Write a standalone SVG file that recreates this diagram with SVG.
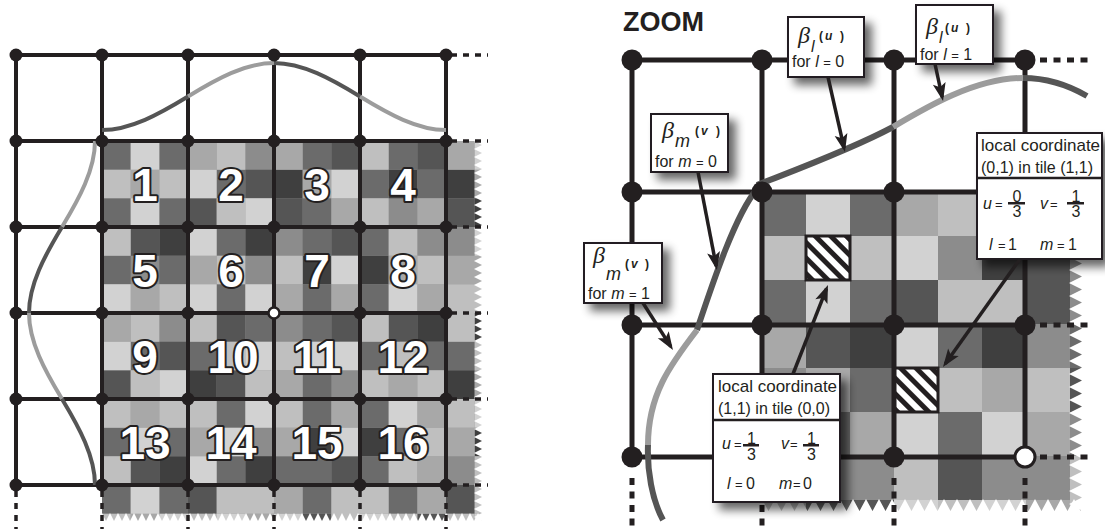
<svg xmlns="http://www.w3.org/2000/svg" width="1105" height="529" viewBox="0 0 1105 529">
<defs>
<style>
.g1{fill:#3f3f3f}.g2{fill:#555}.g3{fill:#6b6b6b}.g4{fill:#8c8c8c}.g5{fill:#a8a8a8}.g6{fill:#bfbfbf}.g7{fill:#d2d2d2}
.ln{fill:none;stroke:#231f20}
.dk{fill:none;stroke:#555;stroke-linecap:butt}
.lt{fill:none;stroke:#9c9c9c;stroke-linecap:butt}
.dot{fill:#231f20}
.num{font-family:"Liberation Sans",Arial,sans-serif;font-weight:bold;font-size:46px;fill:#fff;stroke:#231f20;stroke-width:4;paint-order:stroke;stroke-linejoin:round;text-anchor:middle}
.box{fill:#fff;stroke:#231f20;stroke-width:2}
.t{font-family:"Liberation Sans",Arial,sans-serif;fill:#231f20}
.beta{font-family:"Liberation Serif","Times New Roman",serif;font-style:italic;font-size:24px}
.it{font-style:italic}
.eq{font-size:13px}
.arg{font-size:12px;font-weight:bold}
.arr{fill:none;stroke:#231f20;stroke-width:3.5}
</style>
<filter id="sh" x="-40%" y="-40%" width="190%" height="190%">
<feGaussianBlur in="SourceAlpha" stdDeviation="5"/>
<feOffset dx="7" dy="7"/>
<feComponentTransfer><feFuncA type="linear" slope="0.6"/></feComponentTransfer>
<feMerge><feMergeNode/><feMergeNode in="SourceGraphic"/></feMerge>
</filter>
<pattern id="hatch" patternUnits="userSpaceOnUse" width="11" height="11" patternTransform="rotate(-45)"><rect width="5" height="11" fill="#231f20"/></pattern>
<pattern id="sawLR" patternUnits="userSpaceOnUse" x="474" y="141" width="50" height="8"><polygon points="0,0 8,4 0,8 50,8 50,0" fill="#fff"/></pattern>
<pattern id="sawLB" patternUnits="userSpaceOnUse" x="102" y="513" width="8" height="40"><polygon points="0,0 4,8 8,0 8,40 0,40" fill="#fff"/></pattern>
<pattern id="sawRR" patternUnits="userSpaceOnUse" x="1069" y="192" width="60" height="13"><polygon points="0,0 13,6.5 0,13 60,13 60,0" fill="#fff"/></pattern>
<pattern id="sawRB" patternUnits="userSpaceOnUse" x="762" y="499" width="13" height="40"><polygon points="0,0 6.5,12 13,0 13,40 0,40" fill="#fff"/></pattern>
<marker id="ah" markerUnits="userSpaceOnUse" markerWidth="24" markerHeight="16" viewBox="0 0 24 16" refX="16" refY="8" orient="auto"><path d="M20,8 L2,1.5 L6,8 L2,14.5 z" fill="#231f20"/></marker>
</defs>
<rect width="1105" height="529" fill="#fff"/>

<!-- LEFT PANEL -->
<g id="left-texture">
<g transform="translate(102,141) scale(28.6667)">
<rect width="14" height="14" class="g4"/>
<path class="g1" d="M6 1h1v1h-1z M10 1h1v1h-1z M12 1h1v1h-1z M13 2h1v1h-1z M2 3h1v1h-1z M5 3h1v1h-1z M7 4h1v1h-1z M9 4h1v1h-1z M11 6h1v1h-1z M13 6h1v1h-1z M3 8h1v1h-1z M12 8h1v1h-1z M7 10h1v1h-1z M9 10h1v1h-1z M13 10h1v1h-1z M2 11h1v1h-1z M5 11h1v1h-1z"/>
<path class="g2" d="M8 0h1v1h-1z M11 0h1v1h-1z M5 1h1v1h-1z M3 2h1v1h-1z M6 2h1v1h-1z M12 2h1v1h-1z M1 3h1v1h-1z M8 3h1v1h-1z M4 6h1v1h-1z M8 6h1v1h-1z M10 6h1v1h-1z M2 7h1v1h-1z M0 8h1v1h-1z M4 8h1v1h-1z M1 11h1v1h-1z M8 11h1v1h-1z M3 12h1v1h-1z M12 12h1v1h-1z M7 13h1v1h-1z M11 13h1v1h-1z"/>
<path class="g3" d="M0 0h1v1h-1z M2 0h1v1h-1z M7 0h1v1h-1z M10 0h1v1h-1z M4 1h1v1h-1z M9 1h1v1h-1z M11 1h1v1h-1z M0 2h1v1h-1z M2 2h1v1h-1z M7 2h1v1h-1z M4 3h1v1h-1z M7 3h1v1h-1z M9 3h1v1h-1z M0 4h1v1h-1z M2 4h1v1h-1z M4 5h1v1h-1z M7 5h1v1h-1z M9 5h1v1h-1z M5 6h1v1h-1z M7 6h1v1h-1z M1 7h1v1h-1z M3 7h1v1h-1z M9 7h1v1h-1z M11 7h2v1h-2z M7 8h1v1h-1z M4 9h1v1h-1z M7 9h1v1h-1z M9 9h1v1h-1z M0 10h1v1h-1z M2 10h1v1h-1z M10 10h1v1h-1z M4 11h1v1h-1z M6 11h2v1h-2z M9 11h1v1h-1z M0 12h1v1h-1z M2 12h1v1h-1z M7 12h1v1h-1z M10 12h1v1h-1z"/>
<path class="g5" d="M3 0h1v1h-1z M6 0h1v1h-1z M12 0h1v1h-1z M1 1h1v1h-1z M7 1h1v1h-1z M13 1h1v1h-1z M8 2h1v1h-1z M11 2h1v1h-1z M3 4h1v1h-1z M10 4h1v1h-1z M12 4h2v1h-2z M1 5h1v1h-1z M6 5h1v1h-1z M8 5h1v1h-1z M11 5h1v1h-1z M0 6h1v1h-1z M6 8h1v1h-1z M10 8h1v1h-1z M13 8h1v1h-1z M1 9h1v1h-1z M8 9h1v1h-1z M11 9h1v1h-1z M3 10h1v1h-1z M6 10h1v1h-1z M12 10h1v1h-1z M11 11h1v1h-1z M6 12h1v1h-1z M11 12h1v1h-1z M1 13h1v1h-1z M5 13h1v1h-1z"/>
<path class="g6" d="M4 0h1v1h-1z M9 0h1v1h-1z M0 1h1v1h-1z M2 1h1v1h-1z M4 2h1v1h-1z M9 2h1v1h-1z M0 3h1v1h-1z M10 3h1v1h-1z M4 4h1v1h-1z M6 4h1v1h-1z M11 4h1v1h-1z M2 5h1v1h-1z M12 5h2v1h-2z M1 6h1v1h-1z M3 6h1v1h-1z M9 6h1v1h-1z M12 6h1v1h-1z M4 7h1v1h-1z M6 7h1v1h-1z M10 7h1v1h-1z M13 7h1v1h-1z M1 8h1v1h-1z M5 8h1v1h-1z M9 8h1v1h-1z M11 8h1v1h-1z M0 9h1v1h-1z M2 9h2v1h-2z M6 9h1v1h-1z M12 9h1v1h-1z M11 10h1v1h-1z M0 11h1v1h-1z M10 11h1v1h-1z M13 11h1v1h-1z M4 12h2v1h-2z M8 12h2v1h-2z M13 12h1v1h-1z M0 13h1v1h-1z M3 13h1v1h-1z M8 13h1v1h-1z M10 13h1v1h-1z M12 13h1v1h-1z"/>
<path class="g7" d="M1 0h1v1h-1z M13 0h1v1h-1z M3 1h1v1h-1z M8 1h1v1h-1z M1 2h1v1h-1z M5 2h1v1h-1z M3 3h1v1h-1z M13 3h1v1h-1z M8 4h1v1h-1z M0 5h1v1h-1z M3 5h1v1h-1z M5 5h1v1h-1z M10 5h1v1h-1z M0 7h1v1h-1z M5 7h1v1h-1z M7 7h2v1h-2z M2 8h1v1h-1z M5 9h1v1h-1z M10 9h1v1h-1z M13 9h1v1h-1z M1 10h1v1h-1z M4 10h1v1h-1z M8 10h1v1h-1z M3 11h1v1h-1z M1 12h1v1h-1z M2 13h1v1h-1z M4 13h1v1h-1z M6 13h1v1h-1z M9 13h1v1h-1z M13 13h1v1h-1z"/>
</g>
<rect x="474" y="141" width="50" height="400" fill="url(#sawLR)"/>
<rect x="102" y="513" width="420" height="40" fill="url(#sawLB)"/>
</g>

<g id="left-grid">
<path class="ln" stroke-width="4" d="M16 55H446M16 141H446M16 227H446M16 313H446M16 399H446M16 485H446M16 55V485M102 55V485M188 55V485M274 55V485M360 55V485M446 55V485"/>
<path class="ln" stroke-width="3.5" stroke-dasharray="6 6" d="M451 55H488M451 141H488M451 227H488M451 313H488M451 399H488M451 485H488M16 491V529M102 491V529M188 491V529M274 491V529M360 491V529M446 491V529"/>
</g>

<g id="left-curves" stroke-width="4">
<path class="dk" d="M102,130 C130.67,130 159.33,114 188,96.5"/>
<path class="lt" d="M188,96.5 C216.67,79 245.33,63 274,63"/>
<path class="dk" d="M274,63 C302.67,63 331.33,79 360,96.5"/>
<path class="lt" d="M360,96.5 C388.67,114 417.33,130 446,130"/>
<path class="lt" d="M95,141 C95,169.67 79.3,198.33 62,227"/>
<path class="dk" d="M62,227 C44.7,255.67 29,284.33 29,313"/>
<path class="lt" d="M29,313 C29,341.67 44.7,370.33 62,399"/>
<path class="dk" d="M62,399 C79.3,427.67 95,456.33 95,485"/>
</g>

<g id="left-nodes" class="dot">
<circle cx="16" cy="55" r="6.5"/><circle cx="102" cy="55" r="6.5"/><circle cx="188" cy="55" r="6.5"/><circle cx="274" cy="55" r="6.5"/><circle cx="360" cy="55" r="6.5"/><circle cx="446" cy="55" r="6.5"/>
<circle cx="16" cy="141" r="6.5"/><circle cx="102" cy="141" r="6.5"/><circle cx="188" cy="141" r="6.5"/><circle cx="274" cy="141" r="6.5"/><circle cx="360" cy="141" r="6.5"/><circle cx="446" cy="141" r="6.5"/>
<circle cx="16" cy="227" r="6.5"/><circle cx="102" cy="227" r="6.5"/><circle cx="188" cy="227" r="6.5"/><circle cx="274" cy="227" r="6.5"/><circle cx="360" cy="227" r="6.5"/><circle cx="446" cy="227" r="6.5"/>
<circle cx="16" cy="313" r="6.5"/><circle cx="102" cy="313" r="6.5"/><circle cx="188" cy="313" r="6.5"/><circle cx="360" cy="313" r="6.5"/><circle cx="446" cy="313" r="6.5"/>
<circle cx="16" cy="399" r="6.5"/><circle cx="102" cy="399" r="6.5"/><circle cx="188" cy="399" r="6.5"/><circle cx="274" cy="399" r="6.5"/><circle cx="360" cy="399" r="6.5"/><circle cx="446" cy="399" r="6.5"/>
<circle cx="16" cy="485" r="6.5"/><circle cx="102" cy="485" r="6.5"/><circle cx="188" cy="485" r="6.5"/><circle cx="274" cy="485" r="6.5"/><circle cx="360" cy="485" r="6.5"/><circle cx="446" cy="485" r="6.5"/>
<circle cx="274" cy="313" r="5.5" fill="#fff" stroke="#231f20" stroke-width="2.5"/>
</g>

<g id="left-numbers">
<text class="num" x="145" y="201">1</text><text class="num" x="231" y="201">2</text><text class="num" x="317" y="201">3</text><text class="num" x="403" y="201">4</text>
<text class="num" x="145" y="287">5</text><text class="num" x="231" y="287">6</text><text class="num" x="317" y="287">7</text><text class="num" x="403" y="287">8</text>
<text class="num" x="145" y="373">9</text><text class="num" x="233" y="373">10</text><text class="num" x="317" y="373">11</text><text class="num" x="403" y="373">12</text>
<text class="num" x="145" y="459">13</text><text class="num" x="231" y="459">14</text><text class="num" x="317" y="459">15</text><text class="num" x="403" y="459">16</text>
</g>

<!-- RIGHT PANEL -->
<text class="t" x="623" y="31" font-size="27" font-weight="bold">ZOOM</text>

<g id="right-texture">
<g transform="translate(762,192) scale(44)">
<rect width="8" height="8" class="g4"/>
<path class="g1" d="M5 1h1v1h-1z M2 3h1v1h-1z M5 3h1v1h-1z"/>
<path class="g2" d="M6 1h1v1h-1z M3 2h1v1h-1z M6 2h1v1h-1z M1 3h1v1h-1z M7 4h1v1h-1z M4 6h1v1h-1z M2 7h1v1h-1z"/>
<path class="g3" d="M0 0h1v1h-1z M2 0h1v1h-1z M0 2h1v1h-1z M2 2h1v1h-1z M4 3h1v1h-1z M7 3h1v1h-1z M2 4h1v1h-1z M1 5h1v1h-1z M4 5h1v1h-1z M0 6h1v1h-1z M1 7h1v1h-1z"/>
<path class="g5" d="M3 0h1v1h-1z M6 0h1v1h-1z M0 3h1v1h-1z M1 4h1v1h-1z M5 4h1v1h-1z M0 5h1v1h-1z M2 5h1v1h-1z M6 5h1v1h-1z M6 7h1v1h-1z"/>
<path class="g6" d="M4 0h1v1h-1z M7 0h1v1h-1z M0 1h3v1h-3z M4 2h2v1h-2z M3 4h2v1h-2z M6 4h1v1h-1z M3 6h1v1h-1z M7 6h1v1h-1z M0 7h1v1h-1z M4 7h1v1h-1z M7 7h1v1h-1z"/>
<path class="g7" d="M1 0h1v1h-1z M3 1h1v1h-1z M1 2h1v1h-1z M3 3h1v1h-1z M3 5h1v1h-1z M5 5h1v1h-1z M3 7h1v1h-1z M5 7h1v1h-1z"/>
</g>
<rect x="1069" y="192" width="60" height="340" fill="url(#sawRR)"/>
<rect x="762" y="499" width="350" height="40" fill="url(#sawRB)"/>
<rect x="806" y="236" width="44" height="44" fill="#fff"/>
<rect x="806" y="236" width="44" height="44" fill="url(#hatch)" stroke="#231f20" stroke-width="3"/>
<rect x="894" y="368" width="44" height="44" fill="#fff"/>
<rect x="894" y="368" width="44" height="44" fill="url(#hatch)" stroke="#231f20" stroke-width="3"/>
</g>

<g id="right-grid">
<path class="ln" stroke-width="5" d="M632 60H1025M632 192H1025M632 325H1025M632 457H1025M632 60V457M762 60V457M894 60V457M1025 60V457"/>
<path class="ln" stroke-width="5" stroke-dasharray="7 6.5" d="M1040 60H1090M1040 192H1090M1040 325H1090M1040 457H1090M632 478V529M762 478V529M894 478V529M1025 478V529"/>
</g>

<g id="right-curves" stroke-width="6">
<path class="dk" d="M757,185 C790,172 850,150 893,127"/>
<path class="lt" d="M893,127 C925,108 975,78 1023,78"/>
<path class="dk" d="M1023,78 C1045,78 1068,85 1087,96"/>
<path class="dk" d="M757,189 C735,215 712,285 697,330"/>
<path class="lt" d="M697,330 C670,365 648,395 648,445"/>
<path class="dk" d="M648,445 C647,470 652,500 663,520"/>
</g>

<g id="right-nodes" class="dot">
<circle cx="632" cy="60" r="10.5"/><circle cx="762" cy="60" r="10.5"/><circle cx="894" cy="60" r="10.5"/><circle cx="1025" cy="60" r="10.5"/>
<circle cx="632" cy="192" r="10.5"/><circle cx="762" cy="192" r="10.5"/><circle cx="894" cy="192" r="10.5"/><circle cx="1025" cy="192" r="10.5"/>
<circle cx="632" cy="325" r="10.5"/><circle cx="762" cy="325" r="10.5"/><circle cx="894" cy="325" r="10.5"/><circle cx="1025" cy="325" r="10.5"/>
<circle cx="632" cy="457" r="10.5"/><circle cx="762" cy="457" r="10.5"/><circle cx="894" cy="457" r="10.5"/>
<circle cx="1025" cy="457" r="10" fill="#fff" stroke="#231f20" stroke-width="3"/>
</g>

<g id="box-beta-l0">
<rect class="box" x="788" y="17" width="76" height="60" filter="url(#sh)"/>
<text class="t"><tspan class="beta" x="798" y="43">β</tspan><tspan class="it" x="811" y="52" font-size="16">l</tspan><tspan class="arg" x="819" y="39.5">(</tspan><tspan class="arg it" x="825" y="39.5">u</tspan><tspan class="arg" x="840" y="39.5">)</tspan></text>
<text class="t" x="792" y="67" font-size="16">for <tspan class="it">l</tspan> <tspan class="eq">=</tspan> 0</text>
</g>

<g id="box-beta-l1">
<rect class="box" x="916" y="5" width="77" height="59" filter="url(#sh)"/>
<text class="t"><tspan class="beta" x="926" y="34">β</tspan><tspan class="it" x="939" y="43" font-size="16">l</tspan><tspan class="arg" x="945" y="31.5">(</tspan><tspan class="arg it" x="951" y="31.5">u</tspan><tspan class="arg" x="966" y="31.5">)</tspan></text>
<text class="t" x="920" y="60" font-size="16">for <tspan class="it">l</tspan> <tspan class="eq">=</tspan> 1</text>
</g>

<g id="box-beta-m0">
<rect class="box" x="651" y="114" width="77" height="58" filter="url(#sh)"/>
<text class="t"><tspan class="beta" x="662" y="138">β</tspan><tspan class="it" x="675" y="147" font-size="18">m</tspan><tspan class="arg" x="695" y="134.5">(</tspan><tspan class="arg it" x="701" y="134.5">v</tspan><tspan class="arg" x="716" y="134.5">)</tspan></text>
<text class="t" x="655" y="167" font-size="16">for <tspan class="it">m</tspan> <tspan class="eq">=</tspan> 0</text>
</g>

<g id="box-beta-m1">
<rect class="box" x="584" y="243" width="78" height="60" filter="url(#sh)"/>
<text class="t"><tspan class="beta" x="593" y="263">β</tspan><tspan class="it" x="606" y="280" font-size="18">m</tspan><tspan class="arg" x="625" y="267.5">(</tspan><tspan class="arg it" x="631" y="267.5">v</tspan><tspan class="arg" x="645" y="267.5">)</tspan></text>
<text class="t" x="588" y="299" font-size="16">for <tspan class="it">m</tspan> <tspan class="eq">=</tspan> 1</text>
</g>

<g id="box-local-00">
<rect class="box" x="713" y="374" width="127" height="128" filter="url(#sh)"/>
<path class="ln" stroke-width="2.5" d="M713 420H840"/>
<text class="t" x="718" y="392" font-size="17">local coordinate</text>
<text class="t" x="718" y="414" font-size="16">(1,1) in tile (0,0)</text>
<text class="t" font-size="16"><tspan class="it" x="722" y="449">u</tspan><tspan class="eq" x="734" y="449">=</tspan><tspan x="747" y="443.5">1</tspan><tspan x="747" y="460">3</tspan><tspan class="it" x="781" y="449">v</tspan><tspan class="eq" x="790" y="449">=</tspan><tspan x="807" y="443.5">1</tspan><tspan x="807" y="460">3</tspan></text>
<rect x="743" y="444" width="16" height="2.5" fill="#231f20"/>
<rect x="803" y="444" width="16" height="2.5" fill="#231f20"/>
<text class="t" font-size="16"><tspan class="it" x="727" y="489">l</tspan><tspan class="eq" x="735" y="489">=</tspan><tspan x="746" y="489">0</tspan><tspan class="it" x="779" y="489">m</tspan><tspan class="eq" x="793" y="489">=</tspan><tspan x="803" y="489">0</tspan></text>
</g>

<g id="box-local-11">
<rect class="box" x="977" y="133" width="125" height="126" filter="url(#sh)"/>
<path class="ln" stroke-width="2.5" d="M977 178H1102"/>
<text class="t" x="981" y="151" font-size="17">local coordinate</text>
<text class="t" x="981" y="173" font-size="16">(0,1) in tile (1,1)</text>
<text class="t" font-size="16"><tspan class="it" x="983" y="209">u</tspan><tspan class="eq" x="995" y="209">=</tspan><tspan x="1012.5" y="201.5">0</tspan><tspan x="1012.5" y="217">3</tspan><tspan class="it" x="1040" y="209">v</tspan><tspan class="eq" x="1050" y="209">=</tspan><tspan x="1071.5" y="201.5">1</tspan><tspan x="1071.5" y="217">3</tspan></text>
<rect x="1008" y="202" width="17" height="2.5" fill="#231f20"/>
<rect x="1067" y="202" width="17" height="2.5" fill="#231f20"/>
<text class="t" font-size="16"><tspan class="it" x="989" y="250">l</tspan><tspan class="eq" x="998" y="250">=</tspan><tspan x="1008" y="250">1</tspan><tspan class="it" x="1040" y="250">m</tspan><tspan class="eq" x="1057" y="250">=</tspan><tspan x="1068" y="250">1</tspan></text>
</g>

<g id="connectors">
<path class="arr" marker-end="url(#ah)" d="M828,77 L844.1,148.1"/>
<path class="arr" marker-end="url(#ah)" d="M935,64 L942.2,97.1"/>
<path class="arr" marker-end="url(#ah)" d="M698,172 L716.2,266.1"/>
<path class="arr" marker-end="url(#ah)" d="M643,303 L670.8,346.6"/>
<path class="arr" marker-end="url(#ah)" d="M793,374 L826.5,288.7"/>
<path class="arr" marker-end="url(#ah)" d="M1020,259 L945.3,363.7"/>
</g>
</svg>
